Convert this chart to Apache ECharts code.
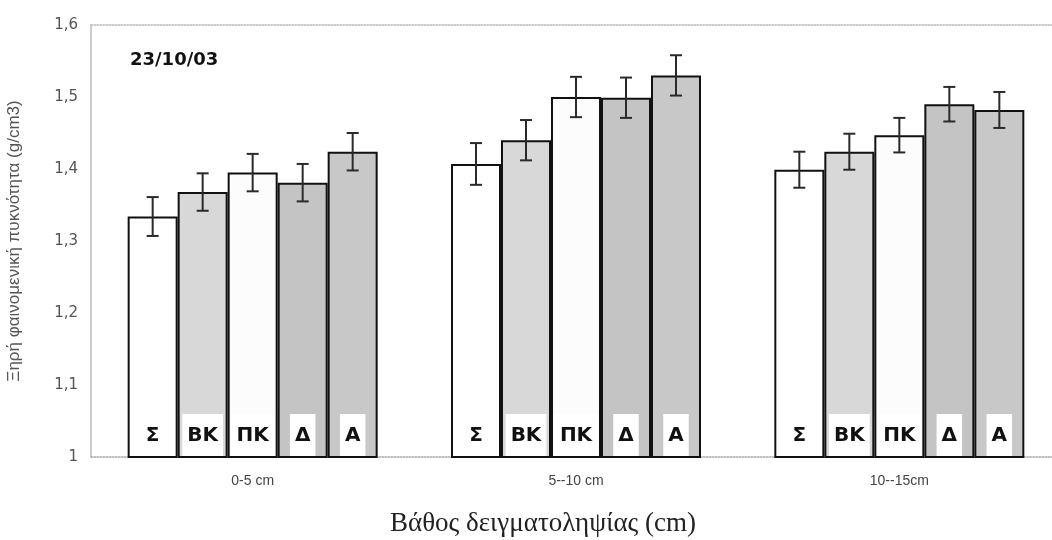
<!DOCTYPE html>
<html>
<head>
<meta charset="utf-8">
<script src="https://cdn.jsdelivr.net/npm/echarts@6/dist/echarts.min.js"></script>
<style>
  html, body { margin: 0; padding: 0; background: #fff; overflow: hidden; }
  #contain { width: 1061px; height: 540px; }
</style>
</head>
<body>
<div id="contain"></div>
<script>
// βάθη δειγματοληψίας
var categories = ['0-5 cm', '5--10 cm', '10--15cm'];
var seriesNames = ['Σ', 'ΒΚ', 'ΠΚ', 'Δ', 'Α'];
var valS  = [1.334, 1.407, 1.399];
var valBK = [1.368, 1.440, 1.424];
var valPK = [1.395, 1.500, 1.447];
var valD  = [1.381, 1.499, 1.490];
var valA  = [1.424, 1.530, 1.482];
var errS  = [0.027, 0.029, 0.025];
var errBK = [0.026, 0.028, 0.025];
var errPK = [0.026, 0.028, 0.024];
var errD  = [0.026, 0.028, 0.024];
var errA  = [0.026, 0.028, 0.025];
var yTicks = [1, 1.1, 1.2, 1.3, 1.4, 1.5, 1.6];

var values = [valS, valBK, valPK, valD, valA];
var errors = [errS, errBK, errPK, errD, errA];
var colors = ['#ffffff', '#d8d8d8', '#fcfcfc', '#c4c4c4', '#c8c8c8'];
var barW = 50;

var myChart = echarts.init(document.getElementById('contain'));

var series = [];
for (var i = 0; i < seriesNames.length; i++) {
    series.push({
        name: seriesNames[i],
        type: 'bar',
        barWidth: barW,
        barGap: '0%',
        data: values[i],
        itemStyle: { color: colors[i], borderColor: '#111', borderWidth: 2 },
        label: {
            show: true,
            position: 'insideBottom',
            distance: 2,
            formatter: seriesNames[i],
            color: '#111',
            fontFamily: 'DejaVu Sans',
            fontWeight: 'bold',
            fontSize: 20,
            lineHeight: 22,
            backgroundColor: '#fff',
            padding: [11, 5, 9, 5]
        },
        z: 2
    });
}

// error bars
for (var k = 0; k < seriesNames.length; k++) {
    (function (k) {
        var d = [];
        for (var c = 0; c < categories.length; c++) {
            d.push([c, values[k][c] - errors[k][c], values[k][c] + errors[k][c]]);
        }
        series.push({
            type: 'custom',
            data: d,
            z: 5,
            silent: true,
            renderItem: function (params, api) {
                var off = (k - 2) * barW;
                var lo = api.coord([api.value(0), api.value(1)]);
                var hi = api.coord([api.value(0), api.value(2)]);
                var x = lo[0] + off;
                var cap = 6;
                var st = { stroke: '#2a2a2a', lineWidth: 2 };
                return {
                    type: 'group',
                    children: [
                        { type: 'line', shape: { x1: x, y1: lo[1], x2: x, y2: hi[1] }, style: st },
                        { type: 'line', shape: { x1: x - cap, y1: lo[1], x2: x + cap, y2: lo[1] }, style: st },
                        { type: 'line', shape: { x1: x - cap, y1: hi[1], x2: x + cap, y2: hi[1] }, style: st }
                    ]
                };
            }
        });
    })(k);
}

var option = {
    animation: false,
    grid: { left: 91, right: 0, top: 25, bottom: 83, outerBoundsMode: 'none' },
    xAxis: [{
        type: 'category',
        data: categories,
        axisLine: { lineStyle: { color: '#aaa', type: 'dotted', width: 1.5 } },
        axisTick: { show: false },
        axisLabel: { color: '#444', fontSize: 14, fontFamily: 'Liberation Sans', margin: 17 }
    }, {
        type: 'category',
        position: 'top',
        data: categories,
        axisLine: { lineStyle: { color: '#bbb', type: 'dotted', width: 1.5 } },
        axisTick: { show: false },
        axisLabel: { show: false }
    }],
    yAxis: {
        type: 'value',
        min: yTicks[0],
        max: yTicks[yTicks.length - 1],
        interval: 0.1,
        name: 'Ξηρή φαινομενική πυκνότητα (g/cm3)',
        nameLocation: 'middle',
        nameGap: 68,
        nameTextStyle: { color: '#555', fontSize: 17, fontFamily: 'Liberation Sans' },
        axisLine: { show: true, lineStyle: { color: '#bbb', width: 1.5 } },
        axisTick: { show: false },
        splitLine: { show: false },
        axisLabel: {
            color: '#555',
            fontSize: 15,
            fontFamily: 'DejaVu Sans',
            margin: 13,
            formatter: function (v) {
                return String(Math.round(v * 10) / 10).replace('.', ',');
            }
        }
    },
    graphic: [{
        type: 'text',
        left: 130,
        top: 51,
        style: { text: '23/10/03', font: 'bold 18px "DejaVu Sans"', fill: '#111' }
    }, {
        type: 'text',
        left: 390,
        top: 510,
        style: { text: 'Βάθος δειγματοληψίας (cm)', font: '27px "Liberation Serif"', fill: '#222' }
    }],
    series: series
};

myChart.setOption(option);
</script>
</body>
</html>
